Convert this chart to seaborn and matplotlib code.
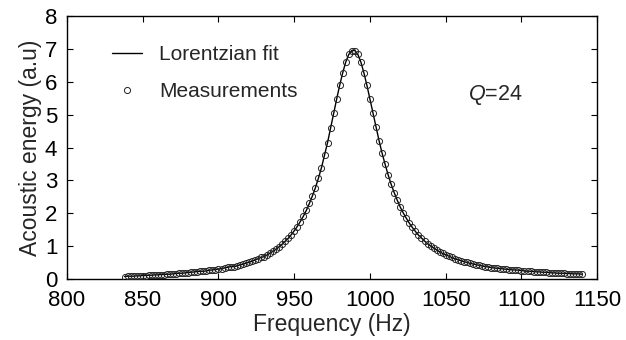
import matplotlib
matplotlib.use("Agg")
import matplotlib.pyplot as plt
import seaborn as sns
import pandas as pd

# Frequency (Hz) of each measurement
freq = [838, 840, 842, 844, 846, 848, 850, 852, 854, 856, 858, 860, 862, 864, 866, 868,
        870, 872, 874, 876, 878, 880, 882, 884, 886, 888, 890, 892, 894, 896, 898, 900,
        902, 904, 906, 908, 910, 912, 914, 916, 918, 920, 922, 924, 926, 928, 930, 932,
        934, 936, 938, 940, 942, 944, 946, 948, 950, 952, 954, 956, 958, 960, 962, 964,
        966, 968, 970, 972, 974, 976, 978, 980, 982, 984, 986, 988,
        990, 992, 994, 996, 998, 1000, 1002, 1004, 1006, 1008, 1010, 1012, 1014, 1016,
        1018, 1020, 1022, 1024, 1026, 1028, 1030, 1032, 1034, 1036, 1038, 1040, 1042,
        1044, 1046, 1048, 1050, 1052, 1054, 1056, 1058, 1060, 1062, 1064, 1066, 1068,
        1070, 1072, 1074, 1076, 1078, 1080, 1082, 1084, 1086, 1088, 1090, 1092, 1094,
        1096, 1098, 1100, 1102, 1104, 1106, 1108, 1110, 1112, 1114, 1116, 1118, 1120,
        1122, 1124, 1126, 1128, 1130, 1132, 1134, 1136, 1138, 1140]

# Measured acoustic energy (a.u)
measured = [0.08, 0.09, 0.09, 0.09, 0.10, 0.10, 0.11, 0.11, 0.12, 0.12, 0.13, 0.13, 0.14, 0.14,
            0.15, 0.15, 0.16, 0.17, 0.18, 0.18, 0.19, 0.20, 0.21, 0.22, 0.23, 0.24, 0.24, 0.25,
            0.27, 0.28, 0.29, 0.31, 0.32, 0.34, 0.36, 0.38, 0.38, 0.40, 0.43, 0.45, 0.48, 0.51,
            0.54, 0.58, 0.62, 0.66, 0.68, 0.73, 0.79, 0.85, 0.91, 0.98, 1.06, 1.15, 1.24, 1.35,
            1.47, 1.60, 1.75, 1.91, 2.09, 2.30, 2.53, 2.78, 3.07, 3.39, 3.77, 4.15, 4.59, 5.04,
            5.47, 5.89, 6.27, 6.60, 6.83, 6.95,
            6.95, 6.83, 6.60, 6.27, 5.89, 5.47, 5.04, 4.62, 4.21, 3.83, 3.49, 3.17, 2.88, 2.63,
            2.40, 2.19, 2.01, 1.85, 1.70, 1.57, 1.45, 1.34, 1.25, 1.16, 1.08, 1.01, 0.95, 0.89,
            0.83, 0.78, 0.74, 0.70, 0.66, 0.62, 0.59, 0.56, 0.53, 0.51, 0.48, 0.46, 0.44, 0.42,
            0.40, 0.38, 0.37, 0.35, 0.34, 0.33, 0.32, 0.31, 0.30, 0.29, 0.28, 0.28, 0.27, 0.26,
            0.25, 0.24, 0.24, 0.23, 0.22, 0.22, 0.21, 0.21, 0.20, 0.19, 0.19, 0.18, 0.18, 0.18,
            0.17, 0.17, 0.16, 0.16, 0.16, 0.15]

x_ticks = [800, 850, 900, 950, 1000, 1050, 1100, 1150]
y_ticks = [0, 1, 2, 3, 4, 5, 6, 7, 8]
q_label = "24"

sns.set_style("ticks")
plt.rcParams["font.family"] = ["Liberation Sans", "DejaVu Sans"]
plt.rcParams["mathtext.fontset"] = "custom"
plt.rcParams["mathtext.it"] = "Liberation Sans:italic"
plt.rcParams["mathtext.rm"] = "Liberation Sans"

df = pd.DataFrame({"Frequency": freq, "Energy": measured})

fig = plt.figure(figsize=(6.26, 3.40), dpi=100)
ax = fig.add_axes([0.107, 0.179, 0.847, 0.774])

sns.lineplot(data=df, x="Frequency", y="Energy", ax=ax, color="black", linewidth=1.0,
             label="Lorentzian fit", zorder=2)
ax.plot(df["Frequency"], df["Energy"], linestyle="none", marker="o", markersize=4.4,
        markerfacecolor="none", markeredgecolor="#222222", markeredgewidth=0.7,
        label="Measurements", zorder=3)

ax.set_xlim(800, 1150)
ax.set_ylim(0, 8)
ax.set_xticks(x_ticks)
ax.set_yticks(y_ticks)
ax.tick_params(direction="in", top=True, right=True, length=4, width=0.8,
               labelsize=16, colors="black")
ax.tick_params(axis="y", pad=7)
ax.tick_params(axis="x", pad=8)
for s in ax.spines.values():
    s.set_linewidth(1.0)
    s.set_color("black")

ax.set_xlabel("Frequency (Hz)", fontsize=16.5, labelpad=1)
ax.set_ylabel("Acoustic energy (a.u)", fontsize=16.5, labelpad=2)

ax.text(1065, 5.6, r"$\mathit{Q}$=" + q_label, fontsize=15.5, va="center", ha="left")

leg = ax.legend(loc="upper left", bbox_to_anchor=(0.085, 0.888), frameon=False,
                fontsize=15, handlelength=1.45, handletextpad=0.8, labelspacing=0.85,
                borderpad=0, borderaxespad=0)

fig.savefig("out.png", dpi=100)
